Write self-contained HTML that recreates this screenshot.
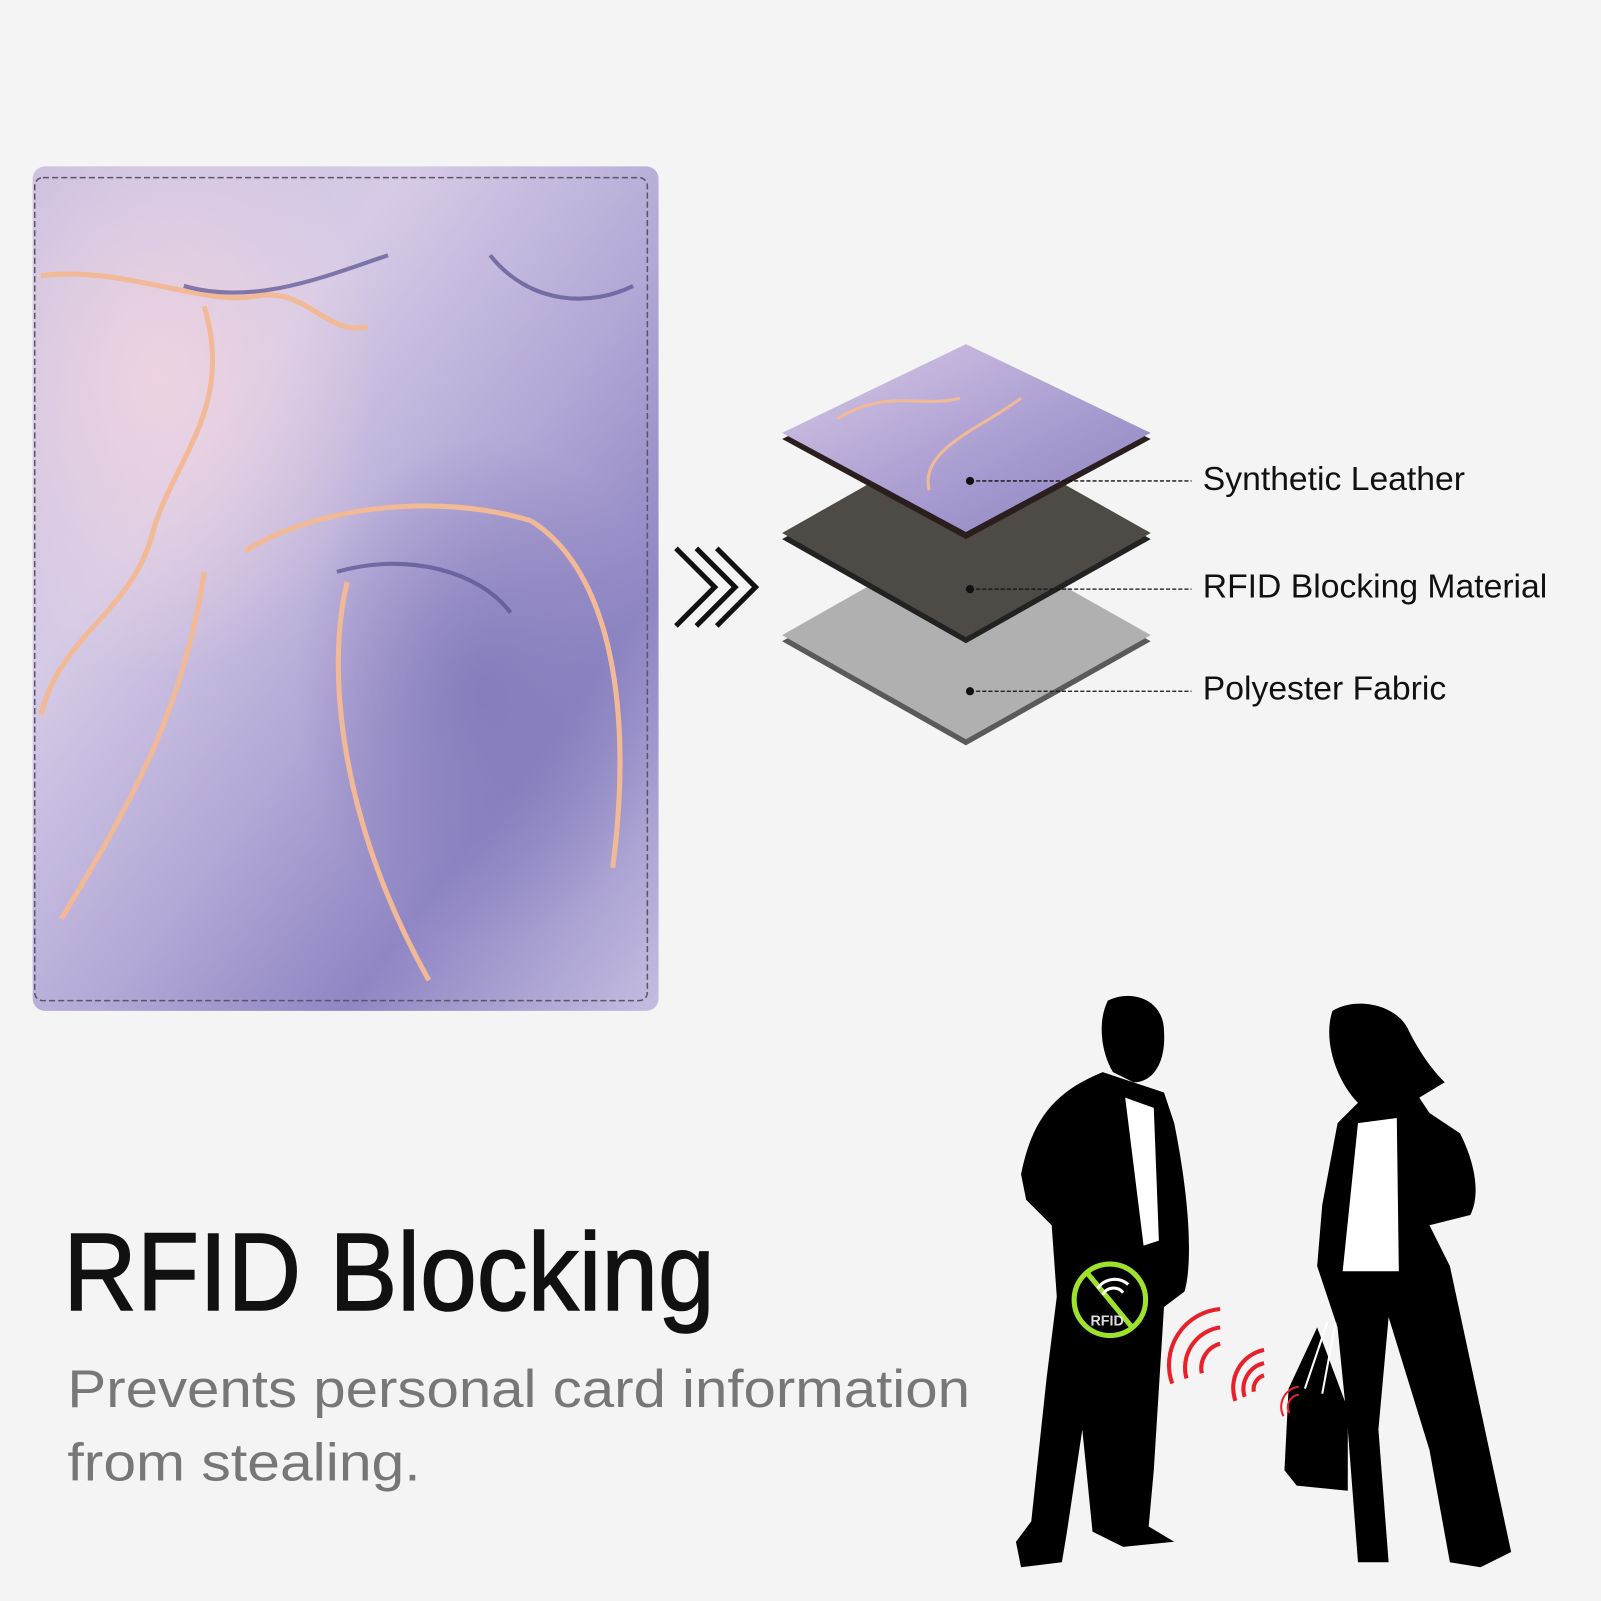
<!DOCTYPE html>
<html><head><meta charset="utf-8"><style>
html,body{margin:0;padding:0;background:#f4f4f4;}
svg{display:block;}
text{font-family:"Liberation Sans",sans-serif;}
</style></head><body>
<svg width="1601" height="1601" viewBox="0 0 1568 1568" xmlns="http://www.w3.org/2000/svg">
<defs>
<linearGradient id="mb" x1="0" y1="0" x2="1" y2="1">
<stop offset="0" stop-color="#c9c0e0"/><stop offset="0.3" stop-color="#d6cbe6"/>
<stop offset="0.55" stop-color="#b3a8d6"/><stop offset="0.75" stop-color="#8f86c4"/><stop offset="1" stop-color="#c5bde0"/>
</linearGradient>
<radialGradient id="pk" cx="0.2" cy="0.25" r="0.35"><stop offset="0" stop-color="#f0d4e0" stop-opacity="0.9"/><stop offset="1" stop-color="#f0d4e0" stop-opacity="0"/></radialGradient>
<radialGradient id="dk" cx="0.72" cy="0.62" r="0.3"><stop offset="0" stop-color="#7f78b8" stop-opacity="0.8"/><stop offset="1" stop-color="#7f78b8" stop-opacity="0"/></radialGradient>
<linearGradient id="lt" x1="0" y1="0" x2="1" y2="1"><stop offset="0" stop-color="#d8c9e6"/><stop offset="0.6" stop-color="#a79bd0"/><stop offset="1" stop-color="#8b82bd"/></linearGradient>
</defs>
<rect width="1568" height="1568" fill="#f4f4f4"/>
<!-- passport -->
<rect x="32" y="163" width="613" height="827" rx="12" fill="url(#mb)"/>
<rect x="32" y="163" width="613" height="827" rx="12" fill="url(#pk)"/>
<rect x="32" y="163" width="613" height="827" rx="12" fill="url(#dk)"/>
<path d="M40 270 C120 260 200 300 250 290 C300 280 320 330 360 320 M200 300 C230 400 170 450 150 520 C130 600 60 620 40 700 M240 540 C300 500 420 480 520 510 M520 510 C600 560 620 700 600 850 M60 900 C120 800 180 700 200 560 M340 570 C320 650 330 800 420 960" stroke="#f1b996" stroke-width="5" fill="none"/>
<path d="M180 280 C250 300 320 270 380 250 M480 250 C520 300 580 300 620 280 M330 560 C400 540 470 560 500 600" stroke="#55508e" stroke-width="4" fill="none" opacity="0.7"/>
<rect x="34" y="174" width="600" height="806" rx="8" fill="none" stroke="#5b5566" stroke-width="1.5" stroke-dasharray="6 3"/>
<!-- arrows -->
<g fill="none" stroke="#111" stroke-width="5">
<path d="M662 537 L700 575 L662 613"/><path d="M682 537 L720 575 L682 613"/><path d="M702 537 L740 575 L702 613"/>
</g>
<!-- layers -->
<path d="M766 628 L946 525 L1127 628 L946 730 Z" fill="#5a5a5a"/>
<path d="M766 622 L946 520 L1127 622 L946 724 Z" fill="#b0b0b0"/>
<path d="M766 528 L946 425 L1127 528 L946 630 Z" fill="#222"/>
<path d="M766 522 L946 420 L1127 522 L946 624 Z" fill="#4e4a46"/>
<path d="M766 430 L946 343 L1127 430 L946 528 Z" fill="#2a1e1e"/>
<path d="M766 424 L946 337 L1127 424 L946 521 Z" fill="url(#lt)"/>
<path d="M820 410 C870 380 900 400 940 390 M1000 390 C960 420 900 440 910 480" stroke="#f1b996" stroke-width="3" fill="none"/>
<g stroke="#111" stroke-width="1.3" stroke-dasharray="4 2">
<line x1="950" y1="471" x2="1167" y2="471"/><line x1="950" y1="577" x2="1167" y2="577"/><line x1="950" y1="677" x2="1167" y2="677"/>
</g>
<g fill="#111"><circle cx="950" cy="471" r="4"/><circle cx="950" cy="577" r="4"/><circle cx="950" cy="677" r="4"/></g>
<g font-size="33" fill="#111">
<text x="1178" y="480">Synthetic Leather</text>
<text x="1178" y="585">RFID Blocking Material</text>
<text x="1178" y="685">Polyester Fabric</text>
</g>
<!-- title -->
<text x="62" y="1283" font-size="108" fill="#111" stroke="#111" stroke-width="1.5" textLength="638" lengthAdjust="spacingAndGlyphs">RFID Blocking</text>
<text x="66" y="1378" font-size="52" fill="#777" textLength="884" lengthAdjust="spacingAndGlyphs">Prevents personal card information</text>
<text x="66" y="1450" font-size="52" fill="#777" textLength="346" lengthAdjust="spacingAndGlyphs">from stealing.</text>
<!-- man -->
<g fill="#000">
<path d="M1085 980 C1110 968 1140 980 1140 1010 C1142 1040 1130 1060 1110 1060 L1090 1050 C1078 1030 1075 1000 1085 980 Z"/>
<path d="M1080 1050 L1140 1070 L1150 1100 C1170 1200 1165 1250 1160 1265 L1140 1280 L1130 1440 L1125 1495 L1150 1510 L1100 1515 L1070 1500 L1060 1400 L1045 1500 L1040 1530 L1000 1535 L995 1510 L1010 1490 L1025 1350 L1035 1270 L1030 1200 L1005 1175 L1000 1150 C1010 1100 1030 1070 1080 1050 Z"/>
<path d="M1305 990 C1330 975 1370 985 1380 1010 C1395 1040 1410 1055 1415 1060 L1390 1075 L1400 1090 L1430 1110 C1445 1140 1450 1170 1440 1190 L1400 1200 L1420 1240 L1450 1380 L1480 1520 L1450 1535 L1420 1530 L1400 1420 L1360 1290 L1350 1400 L1360 1530 L1330 1530 L1320 1400 L1310 1300 L1290 1240 L1295 1180 L1310 1100 L1330 1080 C1310 1060 1295 1020 1305 990 Z"/>
<path d="M1262 1360 L1290 1300 L1320 1380 L1320 1460 L1270 1455 L1258 1440 Z"/>
</g>
<path d="M1102 1075 L1130 1085 L1135 1215 L1120 1220 Z" fill="#fff"/>
<path d="M1330 1100 L1368 1095 L1370 1245 L1315 1245 Z" fill="#fff"/>
<path d="M1300 1295 L1278 1360 M1308 1295 L1295 1365" stroke="#fff" stroke-width="2" fill="none"/>
<circle cx="1087" cy="1273" r="35" fill="none" stroke="#9fe22c" stroke-width="5"/>
<line x1="1065" y1="1247" x2="1108" y2="1299" stroke="#9fe22c" stroke-width="5"/>
<path d="M1075 1262 A20 20 0 0 1 1105 1258 M1080 1268 A12 12 0 0 1 1100 1266" stroke="#fff" stroke-width="3" fill="none"/>
<text x="1068" y="1298" font-size="14" font-weight="bold" fill="#ddd">RFID</text>
<g stroke="#e8202a" stroke-width="4" fill="none">
<path d="M1195 1282 A55 55 0 0 0 1148 1355"/><path d="M1195 1300 A40 40 0 0 0 1162 1350"/><path d="M1195 1316 A25 25 0 0 0 1177 1345"/>
<path d="M1238 1322 A38 38 0 0 0 1210 1372"/><path d="M1238 1335 A26 26 0 0 0 1219 1368"/><path d="M1238 1347 A14 14 0 0 0 1228 1363"/>
<path d="M1272 1358 A20 20 0 0 0 1257 1387" stroke-width="2"/><path d="M1272 1366 A12 12 0 0 0 1263 1384" stroke-width="2"/>
</g>
</svg>
</body></html>
